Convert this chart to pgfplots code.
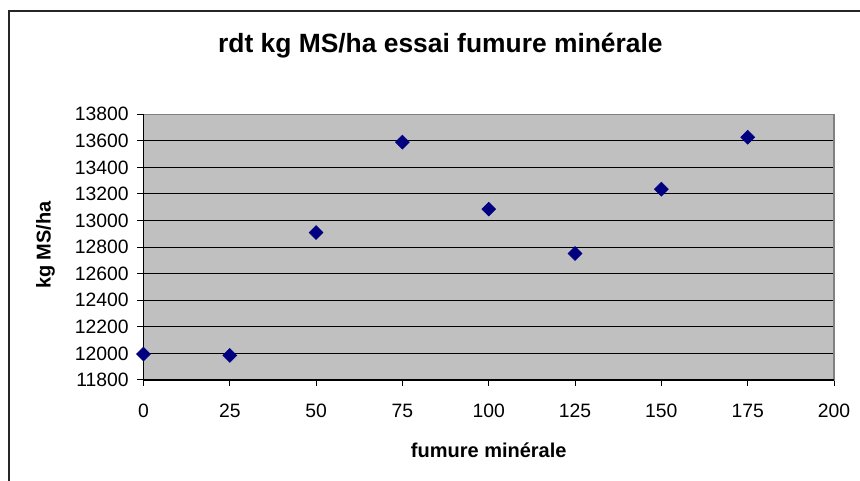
\documentclass[border=0pt]{standalone}
\usepackage{fontspec}
\setmainfont{Liberation Sans}
\usepackage{pgfplots}
\pgfplotsset{compat=1.18}
\definecolor{plotbg}{HTML}{C0C0C0}
\definecolor{frameg}{HTML}{808080}
\definecolor{navyc}{HTML}{000080}
\begin{document}
\begin{tikzpicture}
\useasboundingbox (0,0) rectangle (645pt,360.75pt);
\begin{axis}[
  at={(107.6pt,75.75pt)}, anchor=south west,
  scale only axis, width=517.9pt, height=199.3pt,
  xmin=0, xmax=200, ymin=11800, ymax=13800,
  xtick={0,25,...,200},
  ytick={11800,12000,...,13800},
  scaled ticks=false,
  tick pos=left,
  tick align=outside,
  major tick length=4.5pt,
  tick style={black, line width=0.75pt},
  ymajorgrids,
  major grid style={black, line width=0.75pt},
  axis background/.style={fill=plotbg},
  axis line style={draw=frameg, line width=1.1pt},
  /pgf/number format/assume math mode=true,
  /pgf/number format/fixed,
  /pgf/number format/set thousands separator={},
  ticklabel style={font=\fontsize{14.5}{17}\selectfont},
  xticklabel style={yshift=-10pt},
  yticklabel style={xshift=-3pt},
  title={\bfseries rdt kg MS/ha essai fumure minérale},
  title style={font=\fontsize{19.8}{23}\selectfont, at={(rel axis cs:0.430,1.2300)}, anchor=center},
  xlabel={\bfseries fumure minérale},
  xlabel style={font=\fontsize{15}{18}\selectfont, at={(rel axis cs:0.5,-0.2635)}, anchor=center},
  ylabel={\bfseries kg MS/ha},
  ylabel style={font=\fontsize{15}{18}\selectfont, at={(rel axis cs:-0.1419,0.508)}, anchor=center},
  clip=false,
]
\addplot[only marks, mark=square*, mark size=3.7pt, mark options={rotate=45, fill=navyc, draw=navyc}]
  coordinates {
  (0,11995) (25,11985) (50,12910) (75,13590) (100,13086) (125,12752) (150,13236) (175,13627)
  };
\draw[black, line width=0.9pt] (rel axis cs:0,1) -- (rel axis cs:0,0) -- (rel axis cs:1,0);
\end{axis}
\draw[black!85, line width=1.1pt] (6.75pt,-2pt) -- (6.75pt,352.5pt) -- (650pt,352.5pt);
\end{tikzpicture}
\end{document}
